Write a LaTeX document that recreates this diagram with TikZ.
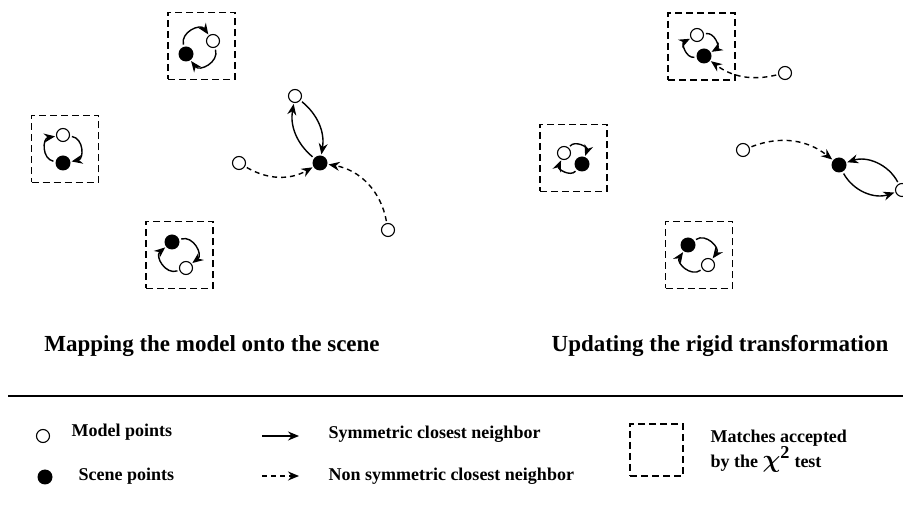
\documentclass[tikz,border=0pt]{standalone}
\usepackage{amsmath}
\usepackage{fontspec}
\setmainfont{Liberation Serif}
\usetikzlibrary{arrows.meta}

\begin{document}
\begin{tikzpicture}[
    x=1pt, y=1pt,
    model/.style={circle, draw, line width=1.1pt, minimum size=13pt, inner sep=0pt},
    scene/.style={circle, fill, minimum size=15pt, inner sep=0pt},
    match/.style={draw, dash pattern=on 7pt off 4pt, line width=1.3pt, minimum size=67pt, inner sep=0pt},
    sym/.style={draw, -{Stealth[length=11pt, width=9pt]}, line width=1.4pt, shorten >=1pt, shorten <=2pt},
    nonsym/.style={sym, dash pattern=on 5pt off 4pt},
    loop/.style={sym, bend left=80, looseness=1.4},
    caption/.style={font=\fontsize{23}{27}\selectfont\bfseries},
    legend/.style={anchor=west, font=\fontsize{18}{20}\selectfont\bfseries}
]
    \useasboundingbox (0,0) rectangle (903,-510);

    % Left panel: boxes of accepted matches
    \node (ltbox) [match] at (201.5,-46) {};
    \node (ltS) [scene] at (186,-54) {};
    \node (ltM) [model] at (213,-41) {};
    \node (llbox) [match] at (65,-149) {};
    \node (llM) [model] at (63,-135) {};
    \node (llS) [scene] at (63,-163) {};
    \node (lbbox) [match] at (179.5,-255) {};
    \node (lbS) [scene] at (172,-242) {};
    \node (lbM) [model] at (186,-268) {};

    % Left panel: free points
    \node (lmTop) [model] at (295,-96) {};
    \node (lsC) [scene] at (320,-163) {};
    \node (lmLeft) [model] at (239,-163) {};
    \node (lmRight) [model] at (388,-230) {};

    % Right panel: boxes of accepted matches
    \node (rtbox) [match] at (701.5,-46.5) {};
    \node (rtM) [model] at (697,-35) {};
    \node (rtS) [scene] at (704,-56) {};
    \node (rlbox) [match] at (573.5,-158) {};
    \node (rlM) [model] at (564,-153) {};
    \node (rlS) [scene] at (582,-164) {};
    \node (rbbox) [match] at (699,-255) {};
    \node (rbS) [scene] at (688,-245) {};
    \node (rbM) [model] at (708,-265) {};

    % Right panel: free points
    \node (rmTop) [model] at (785,-73) {};
    \node (rmLeft) [model] at (743,-150) {};
    \node (rsC) [scene] at (839,-165) {};
    \node (rmRight) [model] at (902,-190) {};

    % Arrows inside the boxes
    \draw[loop] (ltS) to (ltM);
    \draw[loop] (ltM) to (ltS);
    \draw[loop] (llS) to (llM);
    \draw[loop] (llM) to (llS);
    \draw[loop] (lbS) to (lbM);
    \draw[loop] (lbM) to (lbS);
    \draw[loop] (rtM) to (rtS);
    \draw[loop] (rtS) to (rtM);
    \draw[loop] (rlM) to (rlS);
    \draw[loop] (rlS) to (rlM);
    \draw[loop] (rbS) to (rbM);
    \draw[loop] (rbM) to (rbS);

    % Other arrows
    \draw[sym] (lmTop) to[bend left=30] (lsC);
    \draw[sym] (lsC) to[bend left=30] (lmTop);
    \draw[nonsym] (lmLeft) to[bend right=30] (lsC);
    \draw[nonsym] (lmRight) to[bend right=35] (lsC);
    \draw[nonsym] (rmTop) to[bend left=25] (rtS);
    \draw[nonsym] (rmLeft) to[bend left=30] (rsC);
    \draw[sym] (rsC) to[bend right=40] (rmRight);
    \draw[sym] (rmRight) to[bend right=40] (rsC);

    % Captions
    \node (capL) [caption] at (212,-346) {Mapping the model onto the scene};
    \node (capR) [caption] at (720,-346) {Updating the rigid transformation};

    \coordinate (ruleA) at (8,-396);
    \coordinate (ruleB) at (903,-396);
    \draw[line width=1.6pt] (ruleA) -- (ruleB);

    % Legend
    \node (legM) [model] at (43,-436) {};
    \node (legMtxt) [legend] at (68,-432) {Model points};
    \node (legS) [scene] at (45,-477) {};
    \node (legStxt) [legend] at (75,-476) {Scene points};
    \coordinate (symA) at (260,-436);
    \coordinate (symB) at (300,-436);
    \draw[sym] (symA) -- (symB);
    \node (symtxt) [legend] at (325,-434) {Symmetric closest neighbor};
    \coordinate (nonA) at (260,-476);
    \coordinate (nonB) at (300,-476);
    \draw[nonsym] (nonA) -- (nonB);
    \node (nontxt) [legend] at (325,-476) {Non symmetric closest neighbor};
    \node (legBox) [match, minimum width=53pt, minimum height=52pt] at (656.5,-450) {};
    \node (legBoxtxt) [legend, align=left, anchor=north west] at (707,-426) {Matches accepted\\by the {\fontsize{26}{20}\selectfont$\boldsymbol{\chi}^{\mathbf{2}}$} test};

\end{tikzpicture}
\end{document}
